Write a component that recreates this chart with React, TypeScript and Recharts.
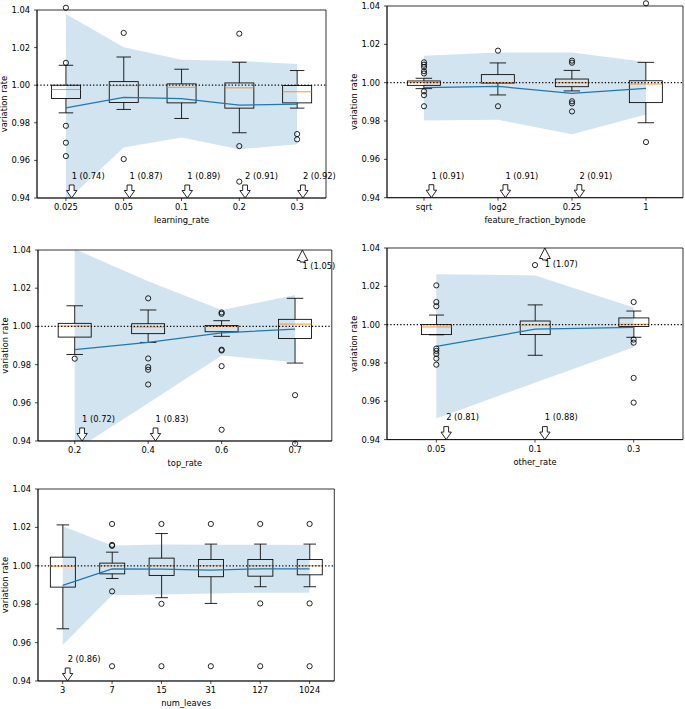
import React from 'react';
import {
  ComposedChart,
  XAxis,
  YAxis,
  Bar,
  Area,
  Line,
  ReferenceLine,
  ReferenceDot,
  ReferenceArea,
} from 'recharts';

// ---------- learning_rate ----------
const lrCats = ['0.025', '0.05', '0.1', '0.2', '0.3'];
const lrQ1 = [0.9929, 0.9908, 0.9906, 0.9878, 0.9906];
const lrMed = [0.9977, 0.9998, 0.9989, 0.9986, 0.9965];
const lrQ3 = [1.0, 1.0019, 1.0007, 1.0012, 0.9998];
const lrWlo = [0.9853, 0.9871, 0.9823, 0.9747, 0.9878];
const lrWhi = [1.0106, 1.015, 1.0085, 1.0122, 1.0078];
const lrMean = [0.988, 0.9935, 0.9929, 0.9894, 0.9899];
const lrBandLo = [0.9381, 0.9668, 0.9722, 0.9659, 0.9686];
const lrBandHi = [1.0379, 1.0202, 1.0136, 1.0129, 1.0113];
const lrOutliers = [
  [1.0412, 1.0119, 0.9784, 0.9694, 0.9623],
  [1.0278, 0.9607],
  [],
  [1.0274, 0.9676, 0.9487],
  [0.974, 0.9712],
];
const lrDown = ['1 (0.74)', '1 (0.87)', '1 (0.89)', '2 (0.91)', '2 (0.92)'];
const lrUp = [null, null, null, null, null];

// ---------- feature_fraction_bynode ----------
const ffCats = ['sqrt', 'log2', '0.25', '1'];
const ffQ1 = [0.9986, 0.9998, 0.9979, 0.9896];
const ffMed = [1.0002, 1.0, 1.0, 0.9993];
const ffQ3 = [1.0009, 1.0042, 1.0019, 1.001];
const ffWlo = [0.9969, 0.9936, 0.9957, 0.9791];
const ffWhi = [1.0023, 1.0103, 1.0064, 1.0106];
const ffMean = [0.9974, 0.9981, 0.9944, 0.997];
const ffBandLo = [0.9803, 0.9806, 0.9731, 0.9834];
const ffBandHi = [1.0141, 1.0158, 1.0158, 1.0108];
const ffOutliers = [
  [1.0106, 1.0094, 1.0082, 1.006, 1.0048, 0.9955, 0.9935, 0.9877],
  [1.0167, 0.9877],
  [1.0115, 1.0104, 0.9903, 0.9892, 0.985],
  [1.0414, 0.969],
];
const ffDown = ['1 (0.91)', '1 (0.91)', '2 (0.91)', null];
const ffUp = [null, null, null, null];

// ---------- top_rate ----------
const trCats = ['0.2', '0.4', '0.6', '0.7'];
const trQ1 = [0.9944, 0.9962, 0.9972, 0.9937];
const trMed = [1.0002, 0.9997, 1.0, 1.0012];
const trQ3 = [1.0016, 1.0014, 1.0005, 1.0037];
const trWlo = [0.9853, 0.9916, 0.9948, 0.9808];
const trWhi = [1.0108, 1.0086, 1.003, 1.0147];
const trMean = [0.9878, 0.9916, 0.9966, 0.9986];
const trBandLo = [0.9351, 0.9598, 0.9848, 0.9812];
const trBandHi = [1.0405, 1.0236, 1.0086, 1.0164];
const trOutliers = [
  [0.9831],
  [1.0147, 0.9832, 0.9787, 0.9773, 0.9696],
  [1.0073, 1.0066, 0.9878, 0.9874, 0.9792, 0.9459],
  [0.964, 0.9386],
];
const trDown = ['1 (0.72)', '1 (0.83)', null, null];
const trUp = [null, null, null, '1 (1.05)'];

// ---------- other_rate ----------
const orCats = ['0.05', '0.1', '0.3'];
const orQ1 = [0.9948, 0.9948, 0.999];
const orMed = [0.9988, 0.9998, 1.0002];
const orQ3 = [1.0, 1.0019, 1.0035];
const orWlo = [0.9947, 0.984, 0.9934];
const orWhi = [1.005, 1.0103, 1.0071];
const orMean = [0.9887, 0.9976, 0.9986];
const orBandLo = [0.951, 0.9697, 0.9882];
const orBandHi = [1.0263, 1.0257, 1.0089];
const orOutliers = [
  [1.0205, 1.0118, 1.0096, 0.9875, 0.9863, 0.9847, 0.9823, 0.9791],
  [1.0311],
  [1.0118, 0.9922, 0.9906, 0.9722, 0.9593],
];
const orDown = ['2 (0.81)', '1 (0.88)', null];
const orUp = [null, '1 (1.07)', null];

// ---------- num_leaves ----------
const nlCats = ['3', '7', '15', '31', '127', '1024'];
const nlQ1 = [0.9889, 0.9958, 0.995, 0.9943, 0.9946, 0.9953];
const nlMed = [0.9998, 1.0, 1.0, 1.0, 1.0, 1.0];
const nlQ3 = [1.0045, 1.0014, 1.004, 1.0033, 1.0033, 1.0033];
const nlWlo = [0.9672, 0.9934, 0.9834, 0.9804, 0.9891, 0.9891];
const nlWhi = [1.0213, 1.0071, 1.0168, 1.0113, 1.0113, 1.0113];
const nlMean = [0.9898, 0.9984, 0.9983, 0.9977, 0.9984, 0.9984];
const nlBandLo = [0.9588, 0.9846, 0.9851, 0.9856, 0.986, 0.986];
const nlBandHi = [1.0206, 1.0106, 1.0111, 1.0109, 1.011, 1.0108];
const nlOutliers = [
  [],
  [1.0218, 1.0109, 1.0104, 0.9867, 0.9477],
  [1.0218, 0.9802, 0.9477],
  [1.0218, 0.9477],
  [1.0218, 0.9804, 0.9477],
  [1.0218, 0.9804, 0.9477],
];
const nlDown = ['2 (0.86)', null, null, null, null, null];
const nlUp = [null, null, null, null, null, null];

// ---------- axes / annotation constants ----------
const yTicks = [0.94, 0.96, 0.98, 1.0, 1.02, 1.04];
const yDomain = [0.94, 1.04];
const refY = 1.0;
const downLabelY = 0.95;
const upLabelY = 1.03;
const arrowDx = 0.1;

const FS = 8.33;
const FONT = 'DejaVu Sans, sans-serif';
const C0 = '#1f77b4';
const C1 = '#ff7f0e';

type Panel = {
  cats: string[];
  q1: number[];
  med: number[];
  q3: number[];
  wlo: number[];
  whi: number[];
  mean: number[];
  bandLo: number[];
  bandHi: number[];
  outliers: number[][];
  down: (string | null)[];
  up: (string | null)[];
  xLabel: string;
};

const panels: Panel[] = [
  { cats: lrCats, q1: lrQ1, med: lrMed, q3: lrQ3, wlo: lrWlo, whi: lrWhi, mean: lrMean, bandLo: lrBandLo, bandHi: lrBandHi, outliers: lrOutliers, down: lrDown, up: lrUp, xLabel: 'learning_rate' },
  { cats: ffCats, q1: ffQ1, med: ffMed, q3: ffQ3, wlo: ffWlo, whi: ffWhi, mean: ffMean, bandLo: ffBandLo, bandHi: ffBandHi, outliers: ffOutliers, down: ffDown, up: ffUp, xLabel: 'feature_fraction_bynode' },
  { cats: trCats, q1: trQ1, med: trMed, q3: trQ3, wlo: trWlo, whi: trWhi, mean: trMean, bandLo: trBandLo, bandHi: trBandHi, outliers: trOutliers, down: trDown, up: trUp, xLabel: 'top_rate' },
  { cats: orCats, q1: orQ1, med: orMed, q3: orQ3, wlo: orWlo, whi: orWhi, mean: orMean, bandLo: orBandLo, bandHi: orBandHi, outliers: orOutliers, down: orDown, up: orUp, xLabel: 'other_rate' },
  { cats: nlCats, q1: nlQ1, med: nlMed, q3: nlQ3, wlo: nlWlo, whi: nlWhi, mean: nlMean, bandLo: nlBandLo, bandHi: nlBandHi, outliers: nlOutliers, down: nlDown, up: nlUp, xLabel: 'num_leaves' },
];

// plot rectangles (page pixels)
const boxes = [
  { px: 37, py: 10.3, pw: 289, ph: 188 },
  { px: 387, py: 5.5, pw: 296, ph: 191.7 },
  { px: 37.7, py: 250, pw: 293.8, ph: 191 },
  { px: 387, py: 247.7, pw: 296, ph: 191.6 },
  { px: 37.7, py: 489, pw: 296.3, ph: 192 },
];

const LW = 0.85;

const BoxShape = (props: any) => {
  const { x, y, width, height, payload } = props;
  if (x == null || y == null || !payload) return null;
  const [lo, hi] = payload.whisk;
  const top = Math.min(y, y + height);
  const bot = Math.max(y, y + height);
  const py = (v: number) => bot - ((v - lo) / (hi - lo)) * (bot - top);
  const cx = x + width / 2;
  const capHalf = width / 4;
  const yq1 = py(payload.q1);
  const yq3 = py(payload.q3);
  const ymed = py(payload.med);
  return (
    <g>
      <line x1={cx} x2={cx} y1={yq3} y2={top} stroke="#000" strokeWidth={LW} />
      <line x1={cx} x2={cx} y1={yq1} y2={bot} stroke="#000" strokeWidth={LW} />
      <line x1={cx - capHalf} x2={cx + capHalf} y1={top} y2={top} stroke="#000" strokeWidth={LW} />
      <line x1={cx - capHalf} x2={cx + capHalf} y1={bot} y2={bot} stroke="#000" strokeWidth={LW} />
      <rect x={x} y={yq3} width={width} height={Math.max(0.1, yq1 - yq3)} fill="none" stroke="#000" strokeWidth={LW} />
      <line x1={x} x2={x + width} y1={ymed} y2={ymed} stroke={C1} strokeWidth={LW} />
    </g>
  );
};

const DownArrow = (p: any) => {
  const { cx, cy } = p;
  const hw = 5.2, sw = 2.4, hl = 7.5, tl = 13;
  const d = `M${cx},${cy} L${cx - hw},${cy - hl} L${cx - sw},${cy - hl} L${cx - sw},${cy - tl} L${cx + sw},${cy - tl} L${cx + sw},${cy - hl} L${cx + hw},${cy - hl} Z`;
  return <path d={d} fill="#fff" stroke="#000" strokeWidth={LW} />;
};

const UpArrow = (p: any) => {
  const { cx, cy } = p;
  const hw = 5.4, sw = 2.4, hl = 10.5, tl = 12;
  const d = `M${cx},${cy} L${cx - hw},${cy + hl} L${cx - sw},${cy + hl} L${cx - sw},${cy + tl} L${cx + sw},${cy + tl} L${cx + sw},${cy + hl} L${cx + hw},${cy + hl} Z`;
  return <path d={d} fill="#fff" stroke="#000" strokeWidth={LW} />;
};

const makeText = (t: string) => (p: any) => (
  <text x={p.cx} y={p.cy} fontSize={FS} fill="#000" fontFamily={FONT} textAnchor="start">
    {t}
  </text>
);

const YW = 40;
const MT = 12;
const MR = 12;
const XH = 32;

function BoxPanel({ panel, box }: { panel: Panel; box: { px: number; py: number; pw: number; ph: number } }) {
  const n = panel.cats.length;
  const rows = panel.cats.map((c, i) => ({
    name: c,
    pos: i + 1,
    whisk: [panel.wlo[i], panel.whi[i]],
    q1: panel.q1[i],
    med: panel.med[i],
    q3: panel.q3[i],
    band: [panel.bandLo[i], panel.bandHi[i]],
    mean: panel.mean[i],
  }));
  const width = YW + box.pw + MR;
  const height = MT + box.ph + XH;
  const bw = Math.min(0.5, Math.max(0.15, 0.15 * (n - 1)));
  const gap = `${((1 - bw) / 2) * 100}%`;
  const xTicks = panel.cats.map((_, i) => i + 1);

  return (
    <div style={{ position: 'absolute', left: box.px - YW, top: box.py - MT, width, height }}>
      <ComposedChart
        width={width}
        height={height}
        data={rows}
        margin={{ top: MT, right: MR, bottom: 0, left: 0 }}
        barCategoryGap={gap}
        style={{ fontFamily: FONT }}
      >
        <XAxis
          xAxisId="num"
          dataKey="pos"
          type="number"
          domain={[0.5, n + 0.5]}
          ticks={xTicks}
          allowDataOverflow
          interval={0}
          tickFormatter={(v: number) => panel.cats[Math.round(v) - 1] ?? ''}
          height={XH}
          tickSize={3}
          tickMargin={3.5}
          stroke="#000"
          strokeWidth={0.7}
          tick={{ fill: '#000', fontSize: FS, fontFamily: FONT }}
          label={{ value: panel.xLabel, position: 'insideBottom', offset: 7, fill: '#000', fontSize: FS, fontFamily: FONT }}
        />
        <XAxis xAxisId="cat" dataKey="name" type="category" scale="band" hide height={0} />
        <YAxis
          type="number"
          domain={yDomain}
          allowDataOverflow
          ticks={yTicks}
          interval={0}
          tickFormatter={(v: number) => v.toFixed(2)}
          width={YW}
          tickSize={3}
          tickMargin={4}
          stroke="#000"
          strokeWidth={0.7}
          tick={{ fill: '#000', fontSize: FS, fontFamily: FONT }}
          label={{
            value: 'variation rate',
            angle: -90,
            position: 'insideLeft',
            offset: 7,
            fill: '#000',
            fontSize: FS,
            fontFamily: FONT,
            style: { textAnchor: 'middle' },
          }}
        />
        <Area
          xAxisId="num"
          dataKey="band"
          fill={C0}
          fillOpacity={0.2}
          stroke="none"
          isAnimationActive={false}
          legendType="none"
        />
        <Bar xAxisId="cat" dataKey="whisk" shape={BoxShape} isAnimationActive={false} legendType="none" />
        <Line
          xAxisId="num"
          dataKey="mean"
          stroke={C0}
          strokeWidth={1.25}
          dot={false}
          activeDot={false}
          isAnimationActive={false}
          legendType="none"
        />
        <ReferenceLine xAxisId="num" y={refY} stroke="#000" strokeWidth={1.25} strokeDasharray="1.25 2.05" />
        {panel.outliers.flatMap((vals, i) =>
          vals.map((v, j) => (
            <ReferenceDot
              key={`o-${i}-${j}`}
              xAxisId="num"
              x={i + 1}
              y={v}
              r={2.6}
              fill="none"
              stroke="#000"
              strokeWidth={LW}
              ifOverflow="visible"
            />
          ))
        )}
        {panel.down.map((t, i) =>
          t ? (
            <ReferenceDot key={`da-${i}`} xAxisId="num" x={i + 1 + arrowDx} y={yDomain[0]} ifOverflow="visible" shape={DownArrow} />
          ) : null
        )}
        {panel.down.map((t, i) =>
          t ? (
            <ReferenceDot key={`dl-${i}`} xAxisId="num" x={i + 1 + arrowDx} y={downLabelY} ifOverflow="visible" shape={makeText(t)} />
          ) : null
        )}
        {panel.up.map((t, i) =>
          t ? (
            <ReferenceDot key={`ua-${i}`} xAxisId="num" x={i + 1 + arrowDx} y={yDomain[1]} ifOverflow="visible" shape={UpArrow} />
          ) : null
        )}
        {panel.up.map((t, i) =>
          t ? (
            <ReferenceDot key={`ul-${i}`} xAxisId="num" x={i + 1 + arrowDx} y={upLabelY} ifOverflow="visible" shape={makeText(t)} />
          ) : null
        )}
        <ReferenceArea
          xAxisId="num"
          x1={0.5}
          x2={n + 0.5}
          y1={yDomain[0]}
          y2={yDomain[1]}
          fill="none"
          fillOpacity={0}
          stroke="#000"
          strokeWidth={0.8}
          ifOverflow="visible"
        />
      </ComposedChart>
    </div>
  );
}

export default function App() {
  return (
    <div
      style={{
        position: 'absolute',
        left: 0,
        top: 0,
        width: 685,
        height: 709,
        overflow: 'hidden',
        background: '#fff',
        fontFamily: FONT,
      }}
    >
      {panels.map((p, i) => (
        <BoxPanel key={p.xLabel} panel={p} box={boxes[i]} />
      ))}
    </div>
  );
}
